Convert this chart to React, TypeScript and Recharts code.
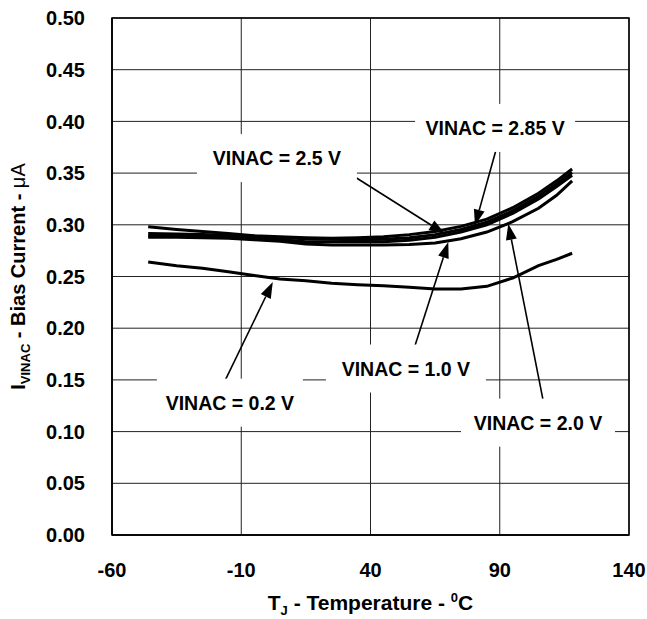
import {
  LineChart,
  Line,
  XAxis,
  YAxis,
  CartesianGrid,
  ReferenceLine,
  ReferenceDot,
  ReferenceArea,
  Label,
} from "recharts";

const FONT = "'Liberation Sans', Arial, Helvetica, sans-serif";

// junction temperature, degC
const temps = [-46, -35, -25, -15, -5, 5, 15, 25, 35, 45, 55, 65, 75, 85, 95, 105, 112, 118];

// bias current, uA
const vinac02 = [0.264, 0.2605, 0.258, 0.2545, 0.251, 0.2475, 0.246, 0.2435, 0.242, 0.241, 0.2395, 0.2378, 0.2378, 0.2405, 0.2485, 0.2605, 0.2665, 0.2725];
const vinac10 = [0.288, 0.288, 0.2875, 0.287, 0.2855, 0.284, 0.2815, 0.2805, 0.2805, 0.2805, 0.281, 0.2825, 0.2865, 0.293, 0.303, 0.316, 0.3285, 0.3425];
const vinac20 = [0.2895, 0.2895, 0.289, 0.2885, 0.287, 0.2855, 0.2835, 0.2835, 0.2835, 0.2835, 0.285, 0.288, 0.293, 0.3, 0.311, 0.325, 0.337, 0.348];
const vinac25 = [0.2915, 0.291, 0.2905, 0.29, 0.289, 0.2875, 0.2865, 0.286, 0.2855, 0.286, 0.2875, 0.2905, 0.2955, 0.3025, 0.3135, 0.3275, 0.3395, 0.3505];
const vinac285 = [0.298, 0.2955, 0.2935, 0.2915, 0.2895, 0.2885, 0.2875, 0.287, 0.2875, 0.2885, 0.2905, 0.2935, 0.2985, 0.3055, 0.3165, 0.3305, 0.3425, 0.354];

const xTicks = [-60, -10, 40, 90, 140];
const yTicks = [0, 0.05, 0.1, 0.15, 0.2, 0.25, 0.3, 0.35, 0.4, 0.45, 0.5];

const data = temps.map((t, i) => ({
  t,
  v02: vinac02[i],
  v10: vinac10[i],
  v20: vinac20[i],
  v25: vinac25[i],
  v285: vinac285[i],
}));

const seriesKeys = ["v02", "v10", "v20", "v25", "v285"];

// callouts: label centre, arrow tail and head (all in data units)
const notes = [
  { text: "VINAC = 2.5 V", x: 3.8, y: 0.3645, w: 160, from: [29.7, 0.353], to: [68.8, 0.2913] },
  { text: "VINAC = 2.85 V", x: 88.2, y: 0.3937, w: 160, from: [88.9, 0.3754], to: [80.4, 0.2993] },
  { text: "VINAC = 1.0 V", x: 53.7, y: 0.161, w: 160, from: [57.2, 0.1831], to: [70.1, 0.2833] },
  { text: "VINAC = 2.0 V", x: 104.8, y: 0.1087, w: 154, from: [107.1, 0.1261], to: [93.3, 0.301] },
  { text: "VINAC = 0.2 V", x: -14.4, y: 0.128, w: 146, from: [-17.4, 0.1435], to: [2.2, 0.2446] },
];

function Arrow(props: any) {
  const { x1, y1, x2, y2 } = props;
  const a = Math.atan2(y2 - y1, x2 - x1);
  const len = 16;
  const half = 5.5;
  const bx = x2 - len * Math.cos(a);
  const by = y2 - len * Math.sin(a);
  const px = -Math.sin(a) * half;
  const py = Math.cos(a) * half;
  return (
    <g>
      <line x1={x1} y1={y1} x2={bx} y2={by} stroke="#000" strokeWidth={1.6} />
      <polygon points={`${x2},${y2} ${bx + px},${by + py} ${bx - px},${by - py}`} fill="#000" />
    </g>
  );
}

function NoteBox({ cx, cy, text, w }: any) {
  return (
    <g>
      <rect x={cx - w / 2} y={cy - 24} width={w} height={48} fill="#fff" />
      <text x={cx} y={cy} dy="0.36em" textAnchor="middle" fontFamily={FONT} fontWeight="bold" fontSize={19.5} fill="#000">
        {text}
      </text>
    </g>
  );
}

function XTitle(props: any) {
  const { x, width } = props.viewBox;
  return (
    <text x={x + width / 2} y={610} textAnchor="middle" fontFamily={FONT} fontWeight="bold" fontSize={21} fill="#000">
      T<tspan fontSize={13} dy={5}>J</tspan>
      <tspan dy={-5}> - Temperature - </tspan>
      <tspan fontSize={13} dy={-8}>0</tspan>
      <tspan dy={8}>C</tspan>
    </text>
  );
}

function YTitle(props: any) {
  const { y, height } = props.viewBox;
  const cy = y + height / 2;
  return (
    <text
      x={25}
      y={cy}
      transform={`rotate(-90 25 ${cy})`}
      textAnchor="middle"
      fontFamily={FONT}
      fontWeight="bold"
      fontSize={20}
      fill="#000"
    >
      I<tspan fontSize={13} dy={5}>VINAC</tspan>
      <tspan dy={-5}> - Bias Current - </tspan>
      <tspan fontWeight="normal">μA</tspan>
    </text>
  );
}

export default function App() {
  const tick = { fontSize: 20, fontWeight: "bold", fill: "#000", fontFamily: FONT };
  return (
    <div style={{ position: "absolute", left: 0, top: 0, background: "#fff" }}>
      <LineChart width={647} height={619} data={data} margin={{ top: 18, right: 18, bottom: 0, left: 0 }}>
        <CartesianGrid stroke="#222" strokeWidth={1} />
        <XAxis
          dataKey="t"
          type="number"
          domain={[-60, 140]}
          ticks={xTicks}
          height={84}
          tickLine={false}
          tickMargin={22}
          axisLine={{ stroke: "#000", strokeWidth: 1.5 }}
          tick={tick}
        >
          <Label content={<XTitle />} />
        </XAxis>
        <YAxis
          type="number"
          domain={[0, 0.5]}
          ticks={yTicks}
          width={112}
          tickLine={false}
          tickMargin={21}
          axisLine={{ stroke: "#000", strokeWidth: 1.5 }}
          tick={tick}
          tickFormatter={(v: number) => v.toFixed(2)}
        >
          <Label content={<YTitle />} />
        </YAxis>
        <ReferenceArea x1={-60} x2={140} y1={0} y2={0.5} fill="none" stroke="#000" strokeWidth={1.5} />
        {notes.map((n) => (
          <ReferenceDot
            key={n.text}
            x={n.x}
            y={n.y}
            r={1}
            shape={(p: any) => <NoteBox cx={p.cx} cy={p.cy} text={n.text} w={n.w} />}
          />
        ))}
        {seriesKeys.map((k) => (
          <Line
            key={k}
            dataKey={k}
            type="linear"
            stroke="#000"
            strokeWidth={3}
            dot={false}
            activeDot={false}
            isAnimationActive={false}
          />
        ))}
        {notes.map((n) => (
          <ReferenceLine
            key={n.text + "-arrow"}
            segment={[
              { x: n.from[0], y: n.from[1] },
              { x: n.to[0], y: n.to[1] },
            ]}
            shape={(p: any) => <Arrow {...p} />}
          />
        ))}
      </LineChart>
    </div>
  );
}
